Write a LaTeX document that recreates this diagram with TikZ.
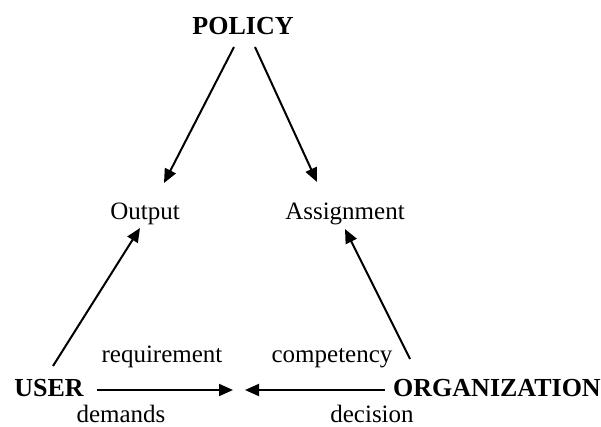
\documentclass[tikz,border=0pt]{standalone}
\usepackage{fontspec}
\setmainfont{Liberation Serif}
\usetikzlibrary{arrows.meta}
\tikzset{
  lbl/.style={font=\fontsize{25}{30}\selectfont, inner sep=0, anchor=base},
  head/.style={lbl, font=\fontsize{26}{31}\selectfont\bfseries},
  arr/.style={-{Triangle[length=14pt,width=12pt]}, line width=2pt}
}
\begin{document}
\begin{tikzpicture}[x=1pt,y=-1pt]
\useasboundingbox (0,0) rectangle (601,427);
\node[head] (policy) at (243,35){POLICY};
\node[lbl] (output) at (145,220){Output};
\node[lbl] (assign) at (345,220){Assignment};
\node[head] (user) at (49,396){USER};
\node[head] (org) at (497,396){ORGANIZATION};
\node[lbl] (req) at (162,362){requirement};
\node[lbl] (comp) at (332,362){competency};
\node[lbl] (dem) at (121,422){demands};
\node[lbl] (dec) at (372,422){decision};
\coordinate (meet) at (239,390);
\draw[arr]([shift={(-9,12)}]policy.base) -- ([shift={(19,-37)}]output.base);
\draw[arr]([shift={(12,12)}]policy.base) -- ([shift={(-28,-38)}]assign.base);
\draw[arr]([shift={(4,-30)}]user.base) -- ([shift={(-5,8)}]output.base);
\draw[arr]([shift={(-87,-37)}]org.base) -- ([shift={(0,9)}]assign.base);
\draw[arr]([shift={(48,-6)}]user.base) -- ([xshift=-6]meet);
\draw[arr]([shift={(-112,-6)}]org.base) -- ([xshift=6]meet);
\end{tikzpicture}
\end{document}
